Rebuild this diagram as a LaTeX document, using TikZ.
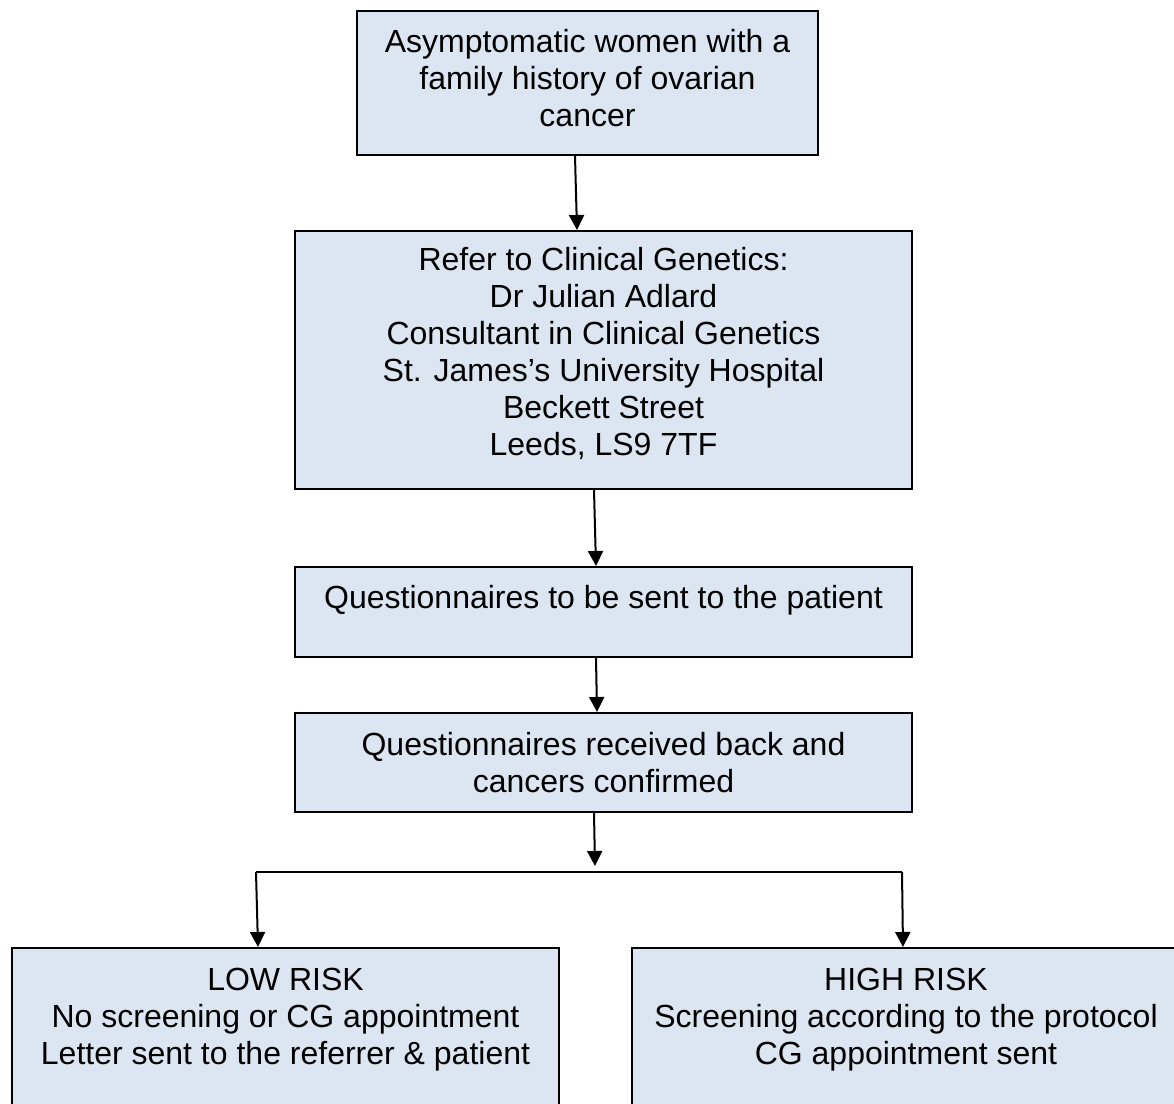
\documentclass[tikz,border=0pt]{standalone}
\usepackage{fontspec}
\setmainfont{Liberation Sans}
\usetikzlibrary{arrows.meta,calc}
\definecolor{boxfill}{HTML}{DCE6F2}
\newcommand{\dpfix}[1]{\rule[-#1]{0pt}{#1}}
\newcommand{\htfix}[1]{\rule{0pt}{#1}}
\begin{document}
\begin{tikzpicture}[x=0.5pt,y=-0.5pt,
  box/.style={draw=black,line width=1pt,fill=boxfill,inner sep=0pt,align=center,
    font=\fontsize{16}{18.5}\selectfont},
  arr/.style={line width=1pt,-{Triangle[length=7.5pt,width=7.5pt]}},
  ln/.style={line width=1pt}]
\useasboundingbox (0,0) rectangle (1174,1104);
\clip (0,0) rectangle (1174,1104);
\node[box,minimum width=230.5pt,minimum height=72pt] (b1) at (587.5,83)
  {Asymptomatic women with a\\family history of ovarian\\cancer\dpfix{5pt}};
\node[box,minimum width=308.5pt,minimum height=129pt] (b2) at (603.5,360)
  {Refer to Clinical Genetics:\\Dr Julian Adlard\\Consultant in Clinical Genetics\\St. James’s University Hospital\\Beckett Street\\Leeds, LS9 7TF\dpfix{8.3pt}};
\node[box,minimum width=308.5pt,minimum height=45pt] (b3) at (603.5,612)
  {\htfix{20.7pt}Questionnaires to be sent to the patient\\\strut};
\node[box,minimum width=308.5pt,minimum height=49.5pt] (b4) at (603.5,762.5)
  {Questionnaires received back and\\cancers confirmed};
\node[box,minimum width=273.5pt,minimum height=86pt] (low) at (285.5,1034)
  {\htfix{17.7pt}LOW RISK\\No screening or CG appointment\\Letter sent to the referrer \& patient\\\strut};
\node[box,minimum width=274pt,minimum height=86pt] (high) at (906,1034)
  {\htfix{17.7pt}HIGH RISK\\Screening according to the protocol\\CG appointment sent\\\strut};
\coordinate (j) at (595,866);
\coordinate (jl) at (256,872);
\coordinate (jr) at (902,872);
\draw[arr] ($(b1.south)+(-12.5,0)$) -- ($(b2.north)+(-26.5,0)$);
\draw[arr] ($(b2.south)+(-9.5,0)$) -- ($(b3.north)+(-7.5,0)$);
\draw[arr] ($(b3.south)+(-7.5,0)$) -- ($(b4.north)+(-6.5,0)$);
\draw[arr] ($(b4.south)+(-9.5,0)$) -- (j);
\draw[ln] (jl) -- (jr);
\draw[arr] (jl) -- ($(low.north)+(-27.5,0)$);
\draw[arr] (jr) -- ($(high.north)+(-3,0)$);
\end{tikzpicture}
\end{document}
